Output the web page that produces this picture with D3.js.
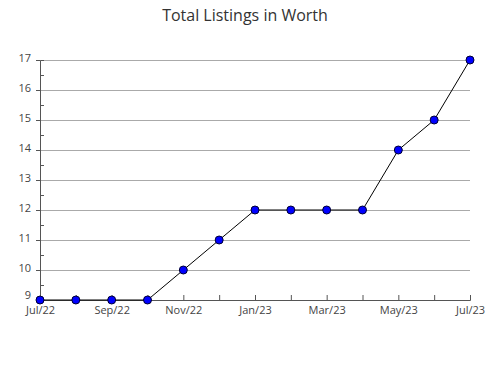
<!DOCTYPE html>
<html>
<head>
<meta charset="utf-8">
<script src="https://cdn.jsdelivr.net/npm/d3@7"></script>
<style>
  body { margin: 0; background: #fff; }
  text { font-family: "Open Sans", sans-serif; fill: #444; }
</style>
</head>
<body>
<svg width="490" height="380"></svg>
<script>
const months = ["Jul/22", "Aug/22", "Sep/22", "Oct/22", "Nov/22", "Dec/22", "Jan/23",
                "Feb/23", "Mar/23", "Apr/23", "May/23", "Jun/23", "Jul/23"];
const listings = [9, 9, 9, 9, 10, 11, 12, 12, 12, 12, 14, 15, 17];
const yTicks = [9, 10, 11, 12, 13, 14, 15, 16, 17];

const svg = d3.select("svg");

// plot area
const plotLeft = 40, plotRight = 470, plotTop = 60, plotBottom = 300;

const x = d3.scalePoint()
    .domain(d3.range(months.length))
    .range([plotLeft, plotRight]);

const y = d3.scaleLinear()
    .domain([9, 17])
    .range([plotBottom, plotTop]);

// title
svg.append("text")
    .attr("x", 245)
    .attr("y", 21)
    .attr("text-anchor", "middle")
    .style("font-size", "16px")
    .style("fill", "#333")
    .text("Total Listings in Worth");

// gridlines
svg.append("g")
    .selectAll("line")
    .data(yTicks.slice(1))
    .join("line")
    .attr("x1", plotLeft)
    .attr("x2", plotRight)
    .attr("y1", d => y(d))
    .attr("y2", d => y(d))
    .attr("stroke", "#aaa")
    .attr("stroke-width", 1)
    .attr("shape-rendering", "crispEdges");

// y axis with half-step minor ticks pointing inward
const yAxis = svg.append("g")
    .attr("transform", `translate(${plotLeft},0)`)
    .call(d3.axisLeft(y).tickValues(d3.range(9, 17.01, 0.5)).tickSize(-4)
        .tickFormat(d => Number.isInteger(d) ? d : ""));
yAxis.select(".domain").attr("stroke", "#555");
yAxis.selectAll(".tick line").attr("stroke", "#555")
    .attr("x2", d => Number.isInteger(d) ? -4 : 4);
yAxis.selectAll(".tick text")
    .attr("x", -9)
    .attr("dy", d => d === 9 ? "-0.15em" : "0.1em")  // lift the bottom label off the month labels
    .style("font-size", "11px")
    .style("fill", "#444");

// x axis with ticks pointing inward
const xAxis = svg.append("g")
    .attr("transform", `translate(0,${plotBottom})`)
    .call(d3.axisBottom(x).tickSize(-5)
        .tickFormat(i => i % 2 === 0 ? months[i] : ""));
xAxis.select(".domain").attr("stroke", "#555");
xAxis.selectAll(".tick line").attr("stroke", "#555");
xAxis.selectAll(".tick text")
    .attr("y", 6)
    .attr("dy", "0.71em")
    .style("font-size", "11px")
    .style("fill", "#444");

// line
svg.append("path")
    .datum(listings)
    .attr("fill", "none")
    .attr("stroke", "#000")
    .attr("stroke-width", 1)
    .attr("d", d3.line().x((d, i) => x(i)).y(d => y(d)));

// markers
svg.append("g")
    .selectAll("circle")
    .data(listings)
    .join("circle")
    .attr("cx", (d, i) => x(i))
    .attr("cy", d => y(d))
    .attr("r", 4)
    .attr("fill", "#0000ff")
    .attr("stroke", "#000033")
    .attr("stroke-width", 1);
</script>
</body>
</html>
